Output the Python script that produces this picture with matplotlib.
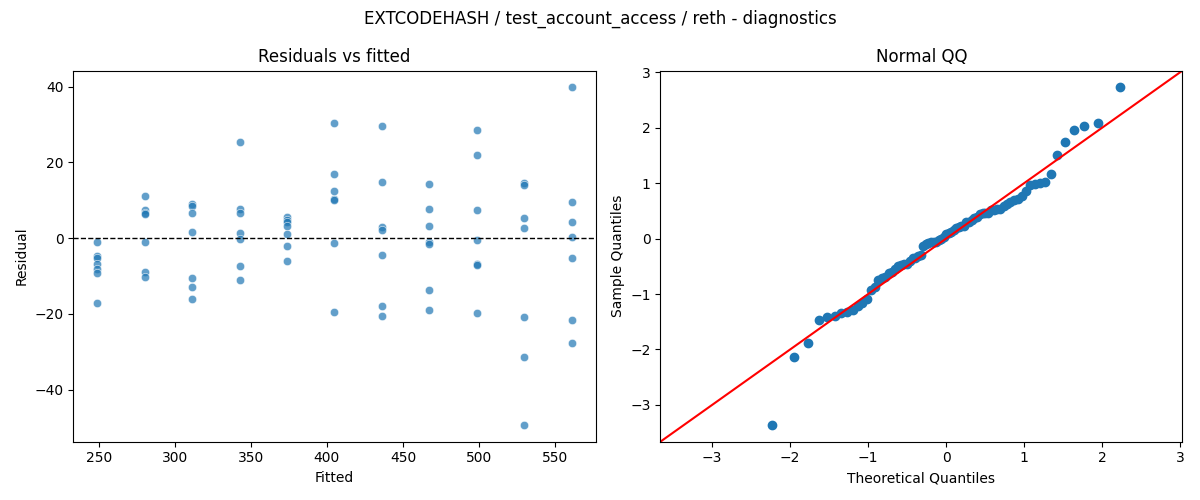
from statistics import NormalDist

import numpy as np
import matplotlib
matplotlib.use("Agg")
import matplotlib.pyplot as plt

# fitted value of each group (7 observations per group)
fitted_levels = [249.0, 280.2, 311.4, 342.6, 373.8, 405.0, 436.2, 467.4, 498.6, 529.8, 561.0]

# residuals, one list per fitted level
residual_groups = [
    [-0.9, -4.7, -5.3, -6.8, -8.2, -9.2, -17.1],
    [11.2, 7.5, 6.6, 6.3, -1.1, -8.9, -10.3],
    [9.1, 8.5, 6.6, 1.6, -10.5, -12.9, -16.1],
    [25.3, 7.7, 6.6, 1.3, -0.3, -7.4, -11.1],
    [5.7, 4.8, 4.4, 3.1, 1.1, -2.1, -6.1],
    [30.3, 16.9, 12.4, 10.3, 10.1, -1.3, -19.5],
    [29.6, 14.8, 2.9, 2.2, -4.5, -17.9, -20.6],
    [14.2, 7.6, 3.2, -1.1, -1.6, -13.7, -19.0],
    [28.5, 21.9, 7.4, -0.5, -6.8, -7.1, -19.8],
    [14.7, 14.0, 5.3, 2.6, -20.8, -31.4, -49.3],
    [39.8, 9.5, 4.4, 0.3, -5.3, -21.6, -27.7],
]

fitted = np.repeat(fitted_levels, [len(g) for g in residual_groups])
resid = np.concatenate([np.array(g) for g in residual_groups])

# normal QQ: standardised residuals against normal quantiles, positions i/(n+1)
n = len(resid)
sample_q = np.sort((resid - resid.mean()) / resid.std())
theo_q = np.array([NormalDist().inv_cdf(i / (n + 1)) for i in range(1, n + 1)])

fig, (ax1, ax2) = plt.subplots(1, 2, figsize=(12, 5), dpi=100)

ax1.scatter(fitted, resid, s=36, color="C0", alpha=0.7, edgecolor="white", linewidth=0.5)
ax1.axhline(0, color="black", linestyle="--", linewidth=1)
ax1.set_title("Residuals vs fitted")
ax1.set_xlabel("Fitted")
ax1.set_ylabel("Residual")

ax2.plot(theo_q, sample_q, marker="o", linestyle="none",
         markerfacecolor="C0", markeredgecolor="C0")
lo = min(ax2.get_xlim()[0], ax2.get_ylim()[0])
hi = max(ax2.get_xlim()[1], ax2.get_ylim()[1])
ax2.plot([lo, hi], [lo, hi], color="red")
ax2.set_xlim(lo, hi)
ax2.set_ylim(lo, hi)
ax2.set_title("Normal QQ")
ax2.set_xlabel("Theoretical Quantiles")
ax2.set_ylabel("Sample Quantiles")

fig.suptitle("EXTCODEHASH / test_account_access / reth - diagnostics")
fig.tight_layout()
fig.savefig("out.png")
